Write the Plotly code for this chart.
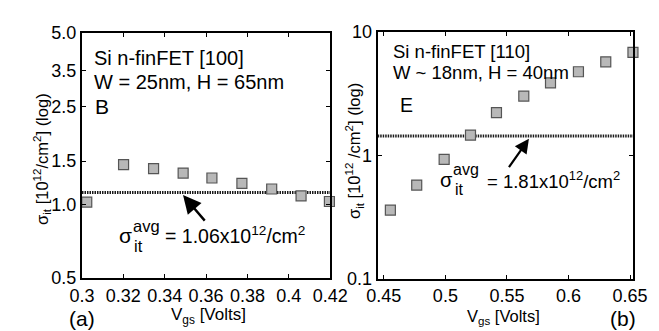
import math
import plotly.graph_objects as go

# ---------------- data ----------------
vgs_a = [0.3023, 0.3201, 0.3346, 0.3489, 0.3628, 0.3773, 0.3917, 0.4059, 0.4196]
sig_a = [1.020, 1.452, 1.398, 1.341, 1.280, 1.217, 1.154, 1.082, 1.026]
avg_a = 1.117

vgs_b = [0.4553, 0.4767, 0.4990, 0.5204, 0.5415, 0.5637, 0.5854, 0.6081, 0.6303, 0.6524]
sig_b = [0.360, 0.575, 0.927, 1.46, 2.22, 3.03, 3.87, 4.77, 5.74, 6.84]
avg_b = 1.44

xt_a = [0.3, 0.32, 0.34, 0.36, 0.38, 0.4, 0.42]
xt_a_txt = ["0.3", "0.32", "0.34", "0.36", "0.38", "0.4", "0.42"]
yt_a = [0.5, 1.0, 1.5, 2.5, 3.5, 5.0]
yt_a_txt = ["0.5", "1.0", "1.5", "2.5", "3.5", "5.0"]
xt_b = [0.45, 0.5, 0.55, 0.6, 0.65]
xt_b_txt = ["0.45", "0.5", "0.55", "0.6", "0.65"]
yt_b = [0.1, 1, 10]
yt_b_txt = ["0.1", "1", "10"]

xr_a = [0.3, 0.42]
xr_b = [0.445, 0.6525]

W, H = 659, 331
FONT = "Liberation Sans, Arial, Helvetica, sans-serif"


def px(x):
    return x / W


def py(y):
    return 1 - y / H


fig = go.Figure()

mk = dict(symbol="square", size=10, color="#b8b8b8", line=dict(color="#555555", width=1.2))

fig.add_trace(go.Scatter(x=xr_a, y=[avg_a, avg_a], mode="lines",
                         line=dict(color="#1a1a1a", width=3, dash="1.5px,1px"),
                         xaxis="x", yaxis="y", showlegend=False))
fig.add_trace(go.Scatter(x=vgs_a, y=sig_a, mode="markers", marker=mk, cliponaxis=False,
                         xaxis="x", yaxis="y", showlegend=False))
fig.add_trace(go.Scatter(x=xr_b, y=[avg_b, avg_b], mode="lines",
                         line=dict(color="#1a1a1a", width=3, dash="1.5px,1px"),
                         xaxis="x2", yaxis="y2", showlegend=False))
fig.add_trace(go.Scatter(x=vgs_b, y=sig_b, mode="markers", marker=mk, cliponaxis=False,
                         xaxis="x2", yaxis="y2", showlegend=False))

ax_common = dict(showline=True, linecolor="black", linewidth=2, mirror="ticks",
                 ticks="inside", ticklen=4, tickwidth=1.2, tickcolor="black",
                 showgrid=False, zeroline=False,
                 tickfont=dict(family=FONT, size=18, color="black"))

fig.update_layout(
    width=W, height=H, margin=dict(l=0, r=0, t=0, b=0),
    paper_bgcolor="white", plot_bgcolor="white",
    font=dict(family=FONT, size=18, color="black"),
    xaxis=dict(domain=[px(64), px(324.5)], range=xr_a, anchor="y",
               tickvals=xt_a, ticktext=xt_a_txt, **ax_common),
    yaxis=dict(domain=[py(276.7), py(16)], type="log",
               range=[math.log10(0.5), math.log10(5.0)], anchor="x",
               tickvals=yt_a, ticktext=yt_a_txt, **ax_common),
    xaxis2=dict(domain=[px(374.3), px(642.3)], range=xr_b, anchor="y2",
                tickvals=xt_b, ticktext=xt_b_txt, **ax_common),
    yaxis2=dict(domain=[py(277.5), py(15)], type="log", range=[-1, 1], anchor="x2",
                tickvals=yt_b, ticktext=yt_b_txt, **ax_common),
)

anns = []


def txt(x, y, s, size=18, xanchor="left", yanchor="middle", angle=0):
    anns.append(dict(x=px(x), y=py(y), xref="paper", yref="paper", text=s,
                     showarrow=False, xanchor=xanchor, yanchor=yanchor,
                     textangle=angle, font=dict(family=FONT, size=size, color="black")))


# panel (a) texts
txt(74, 43, "Si n-finFET [100]", 20)
txt(74, 68, "W = 25nm, H = 65nm", 20)
txt(76, 94, "B", 21)
# panel (b) texts
txt(388, 36, "Si n-finFET [110]", 18.5)
txt(388, 58, "W ~ 18nm, H = 40nm", 18.5)
txt(396, 93, "E", 19.5)

# sigma avg labels (a)
txt(101, 231, "σ", 21)
txt(115, 221, "avg", 16.5)
txt(116, 243, "it", 16.5)
txt(149, 231, "= 1.06x10<sup>12</sup>/cm<sup>2</sup>", 19.5)
# sigma avg labels (b)
txt(438, 172, "σ", 20)
txt(451, 161, "avg", 16)
txt(453, 183, "it", 16)
txt(487, 172, "= 1.81x10<sup>12</sup>/cm<sup>2</sup>", 18.5)

# axis titles
txt(197, 331, "V<sub>gs</sub> [Volts]", 17, xanchor="center", yanchor="bottom")
txt(506, 331, "V<sub>gs</sub> [Volts]", 16.5, xanchor="center", yanchor="bottom")
txt(22, 150, "σ<sub>it</sub> [10<sup>12</sup>/cm<sup>2</sup>] (log)", 16.5, xanchor="center", angle=-90)
txt(350, 142, "σ<sub>it</sub> [10<sup>12</sup> /cm<sup>2</sup>] (log)", 16.5, xanchor="center", angle=-90)

# panel letters
txt(64, 320, "(a)", 21, xanchor="center")
txt(632, 320, "(b)", 21, xanchor="center")

# arrows
anns.append(dict(x=px(170), y=py(188.5), xref="paper", yref="paper", text="",
                 showarrow=True, arrowhead=2, arrowsize=1.5, arrowwidth=2.4,
                 arrowcolor="black", ax=23, ay=27, standoff=0))
anns.append(dict(x=px(533), y=py(128.5), xref="paper", yref="paper", text="",
                 showarrow=True, arrowhead=2, arrowsize=1.3, arrowwidth=2.2,
                 arrowcolor="black", ax=-21, ay=30, standoff=0))

fig.update_layout(annotations=anns)
fig.write_html("out.html")
